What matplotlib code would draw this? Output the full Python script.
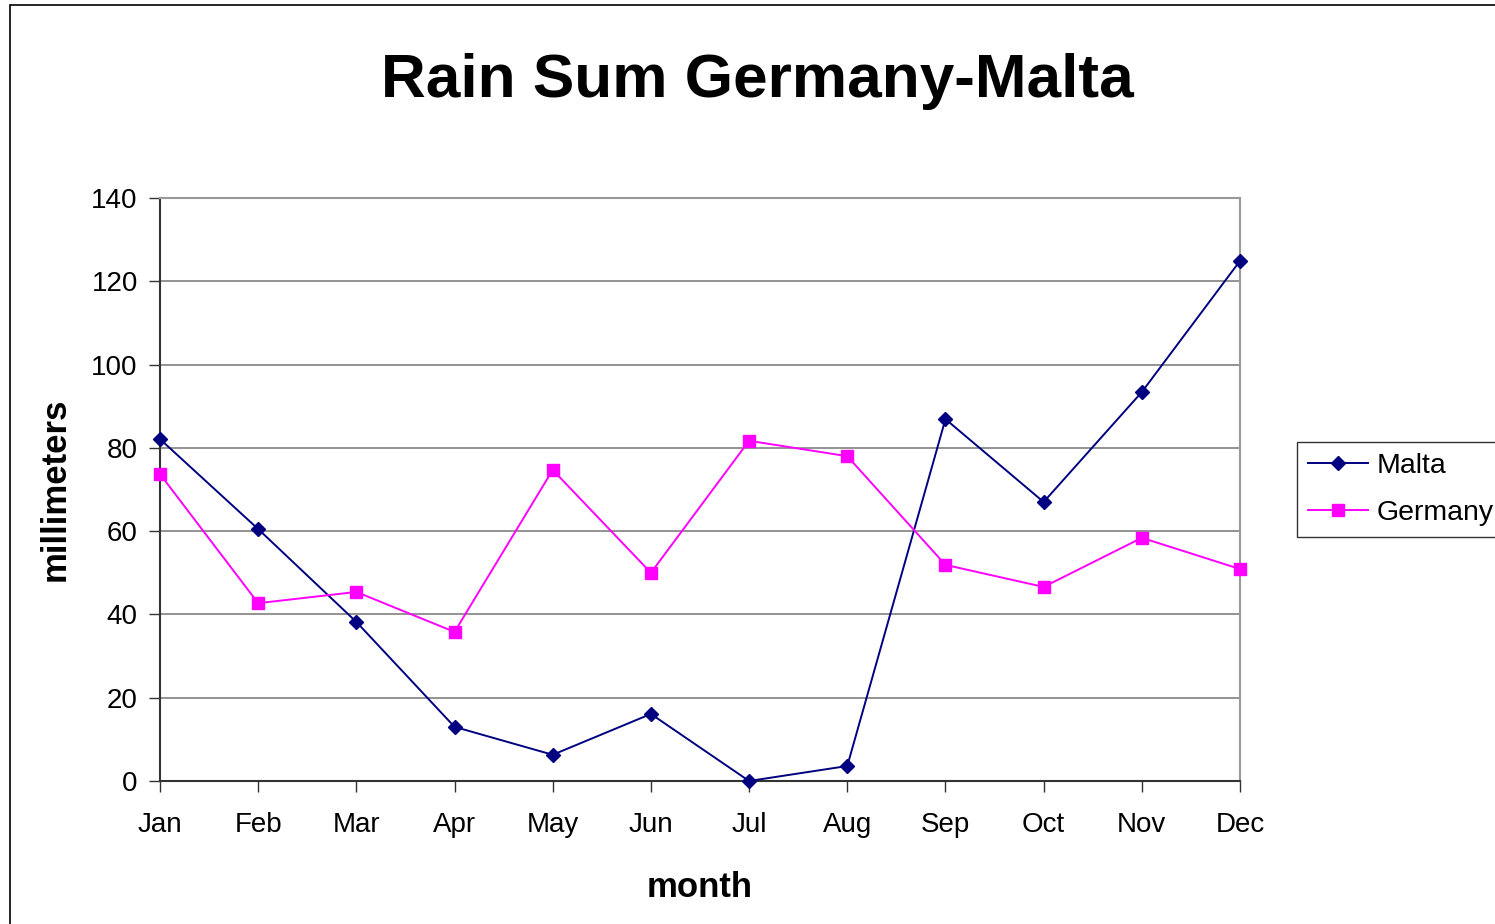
import matplotlib
matplotlib.use("Agg")
import matplotlib.pyplot as plt
from matplotlib.patches import Rectangle

months = ["Jan", "Feb", "Mar", "Apr", "May", "Jun", "Jul", "Aug", "Sep", "Oct", "Nov", "Dec"]
malta = [82.1, 60.5, 38.2, 13.0, 6.3, 16.1, 0.0, 3.6, 86.9, 67.0, 93.4, 124.9]
germany = [73.7, 42.7, 45.4, 35.8, 74.7, 50.0, 81.7, 78.0, 51.9, 46.6, 58.4, 50.9]
yticks = [0, 20, 40, 60, 80, 100, 120, 140]

plt.rcParams['font.family'] = ['Liberation Sans', 'DejaVu Sans']

W, H = 1495, 924
fig = plt.figure(figsize=(W / 100, H / 100), dpi=100)
fig.patch.set_facecolor("white")
fig.patches.append(Rectangle((10 / W, -0.05), 1.2, 1.05 - 5 / H, transform=fig.transFigure,
                             fill=False, edgecolor="black", linewidth=1.2, zorder=0))

ax = fig.add_axes([160 / W, (H - 781) / H, 1080 / W, 583 / H])
x = list(range(len(months)))
ax.plot(x, malta, color="#000080", marker="D", markersize=7, linewidth=1.4,
        label="Malta", zorder=3, clip_on=False)
ax.plot(x, germany, color="#FF00FF", marker="s", markersize=8, linewidth=1.4,
        label="Germany", zorder=3, clip_on=False)

ax.set_xlim(0, 11)
ax.set_ylim(0, 140)
ax.set_xticks(x)
ax.set_xticklabels(months)
ax.set_yticks(yticks)
ax.tick_params(axis="both", labelsize=20, length=8, width=1.0, direction="out", color="#333333")
ax.tick_params(axis="x", pad=14)
ax.tick_params(axis="y", pad=8)
ax.grid(axis="y", color="#808080", linewidth=1.2, zorder=0)
for s in ["left", "bottom"]:
    ax.spines[s].set_color("#333333")
    ax.spines[s].set_linewidth(1.5)
for s in ["right", "top"]:
    ax.spines[s].set_color("#999999")
    ax.spines[s].set_linewidth(1.5)

ax.set_xlabel("month", fontsize=25, fontweight="bold", labelpad=24)
ax.set_ylabel("millimeters", fontsize=25, fontweight="bold", labelpad=14)

fig.text(757 / W, 1 - 82 / H, "Rain Sum Germany-Malta", fontsize=44.7, fontweight="bold",
         ha="center", va="center")

leg = fig.legend(loc="upper left", bbox_to_anchor=(1297 / W, 1 - 442 / H), fontsize=20.5,
                 frameon=True, fancybox=False, edgecolor="black", handlelength=2.1,
                 borderaxespad=0, borderpad=0.4, labelspacing=0.72, handletextpad=0.3)
leg.get_frame().set_linewidth(1.0)

fig.savefig("out.png", dpi=100, facecolor="white")
